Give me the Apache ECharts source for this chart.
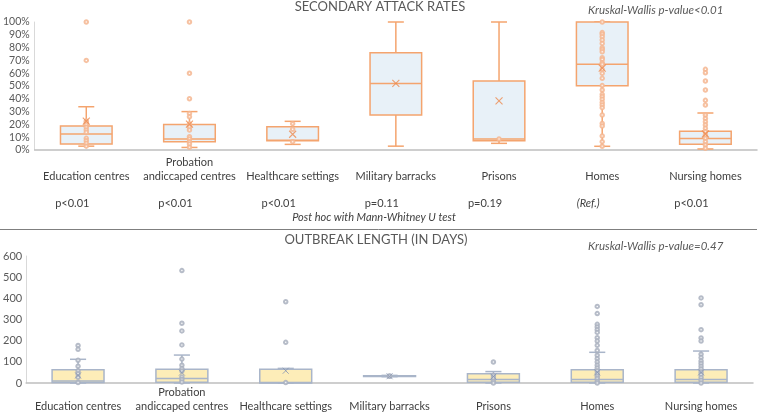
<!DOCTYPE html>
<html>
<head>
<meta charset="utf-8">
<script src="https://cdn.jsdelivr.net/npm/echarts@6/dist/echarts.min.js"></script>
<style>
html,body{margin:0;padding:0;background:#fff;}
#chart{width:760px;height:417px;}
</style>
</head>
<body>
<div id="chart"></div>
<script>
// ---------- DATA ----------
const categories = ['Education centres', 'Probation\nandiccaped centres', 'Healthcare settings', 'Military barracks', 'Prisons', 'Homes', 'Nursing homes'];

// Secondary attack rates (%)
const sarMin    = [3,    2,    4.4,  3,    5.2,  2.9,  0.8];
const sarQ1     = [4.7,  6.5,  7.3,  27.3, 7.3,  50.2, 4.4];
const sarMedian = [12.5, 8.6,  7.6,  52,   8.6,  67,   8.9];
const sarQ3     = [18.7, 20,   18.2, 76,   54,   100,  14.6];
const sarMax    = [33.8, 30,   22.4, 100,  100,  100,  28.9];
const sarMean   = [22.5, 20.3, 12.3, 52,   38.3, 64,   12.5];
const sarPoints = [
  [100, 70, 22.6, 21.6, 20, 17.7, 15.6, 13.8, 9.1, 7.3, 5.2, 3],
  [100, 60, 40, 28.6, 26, 20.3, 18, 15.6, 10.4, 8.6, 6.5, 4.7, 2.1],
  [20.6, 16.2, 6.5],
  [],
  [8.6],
  [100, 91.7, 90.4, 88.5, 85.9, 83.3, 79.9, 78.6, 76.8, 72.1, 70.8, 68.2, 66.9, 63, 59.9, 56, 50.3, 46.9, 43.5, 41.7, 39.6, 37.2, 35.2, 33.1, 27.3, 20.8, 18.75, 10.9, 6.5, 2.9],
  [63, 60.4, 53.9, 46.9, 38.8, 35.2, 27.3, 24.7, 22.1, 19.5, 16.9, 14.3, 11.7, 9.1, 6.5, 3.9, 1.3]
];
const sarPValues = ['p<0.01', 'p<0.01', 'p<0.01', 'p=0.11', 'p=0.19', '(Ref.)', 'p<0.01'];

// Outbreak length (days)
const olMin    = [0,   0,   0,  30, 0,  0,   0];
const olQ1     = [2,   3,   0,  31, 4,  3,   3];
const olMedian = [9,   21,  2,  32, 16, 17,  17];
const olQ3     = [63,  65,  65, 34, 44, 63,  63];
const olMax    = [112, 132, 69, 36, 54, 145, 151];
const olMean   = [36,  49,  58, 32, 30, 50,  50];
const olPoints = [
  [177, 159, 107, 79, 57, 44, 27, 2],
  [531, 282, 246, 180, 113, 84, 68, 57, 28, 17, 5],
  [384, 192, 2],
  [32, 33],
  [99, 36, 24, 8, 0],
  [362, 328, 277, 265, 252, 239, 214, 198, 178, 154, 131, 115, 99, 84, 71, 57, 44, 32, 21, 8, 0],
  [402, 370, 252, 213, 198, 136, 120, 104, 92, 79, 66, 52, 40, 26, 13, 0]
];

const sarTicks = [0, 100, 10];   // min, max, step
const olTicks = [0, 600, 100];

// ---------- CHART ----------
const FONT = 'Lato, "Open Sans", sans-serif';
const chart = echarts.init(document.getElementById('chart'), null, {renderer: 'canvas'});

function boxRenderer(st) {
  return function (params, api) {
    const idx = api.value(0);
    const pMin = api.coord([idx, api.value(1)]);
    const pQ1 = api.coord([idx, api.value(2)]);
    const pMed = api.coord([idx, api.value(3)]);
    const pQ3 = api.coord([idx, api.value(4)]);
    const pMax = api.coord([idx, api.value(5)]);
    const band = api.size([1, 0])[0];
    const w = band * 0.5;
    const cw = band * 0.155;
    const x = pMed[0];
    const ls = {stroke: st.stroke, lineWidth: st.lw};
    return {
      type: 'group',
      children: [
        {type: 'line', shape: {x1: x, y1: pQ3[1], x2: x, y2: pMax[1]}, style: ls},
        {type: 'line', shape: {x1: x, y1: pQ1[1], x2: x, y2: pMin[1]}, style: ls},
        {type: 'line', shape: {x1: x - cw / 2, y1: pMax[1], x2: x + cw / 2, y2: pMax[1]}, style: ls},
        {type: 'line', shape: {x1: x - cw / 2, y1: pMin[1], x2: x + cw / 2, y2: pMin[1]}, style: ls},
        {type: 'rect', shape: {x: x - w / 2, y: pQ3[1], width: w, height: Math.max(pQ1[1] - pQ3[1], 0.5)},
          style: {fill: st.fill, stroke: st.stroke, lineWidth: st.lw}},
        {type: 'line', shape: {x1: x - w / 2, y1: pMed[1], x2: x + w / 2, y2: pMed[1]}, style: ls}
      ]
    };
  };
}

function boxData(mn, q1, md, q3, mx) {
  return mn.map((v, i) => [i, mn[i], q1[i], md[i], q3[i], mx[i]]);
}
function pointData(pts) {
  const out = [];
  pts.forEach((arr, i) => arr.forEach(v => out.push([i, v])));
  return out;
}
function meanData(arr) { return arr.map((v, i) => [i, v]); }

const xMark = 'path://M0,0L10,10M10,0L0,10';

const axisLabelX = (margin) => ({
  color: '#404040', fontSize: 11, fontFamily: FONT, interval: 0,
  verticalAlign: 'bottom', lineHeight: 14, margin: margin
});

const option = {
  animation: false,
  backgroundColor: '#ffffff',
  textStyle: {fontFamily: FONT},
  grid: [
    {left: 32, right: 3, top: 22, height: 128},
    {left: 24, right: 7, top: 256, height: 127}
  ],
  xAxis: [
    {type: 'category', gridIndex: 0, data: categories,
      axisLine: {lineStyle: {color: '#bfbfbf', width: 1.5}}, axisTick: {show: false},
      axisLabel: axisLabelX(33), splitLine: {show: false}},
    {type: 'category', gridIndex: 1, data: categories,
      axisLine: {lineStyle: {color: '#bfbfbf', width: 1.5}}, axisTick: {show: false},
      axisLabel: axisLabelX(30), splitLine: {show: false}}
  ],
  yAxis: [
    {type: 'value', gridIndex: 0, min: sarTicks[0], max: sarTicks[1], interval: sarTicks[2],
      axisLine: {show: true, lineStyle: {color: '#d9d9d9'}}, axisTick: {show: false}, splitLine: {show: false},
      axisLabel: {formatter: '{value}%', color: '#595959', fontSize: 10.5, fontFamily: FONT, margin: 5}},
    {type: 'value', gridIndex: 1, min: olTicks[0], max: olTicks[1], interval: olTicks[2],
      axisLine: {show: true, lineStyle: {color: '#d9d9d9'}}, axisTick: {show: false}, splitLine: {show: false},
      axisLabel: {color: '#595959', fontSize: 11, fontFamily: FONT, margin: 4}}
  ],
  series: [
    {type: 'custom', xAxisIndex: 0, yAxisIndex: 0, renderItem: boxRenderer({stroke: '#F4A46E', fill: '#E8F1F8', lw: 1.5}),
      data: boxData(sarMin, sarQ1, sarMedian, sarQ3, sarMax), encode: {x: 0, y: [1, 2, 3, 4, 5]}, z: 2},
    {type: 'scatter', xAxisIndex: 0, yAxisIndex: 0, symbol: 'emptyCircle', symbolSize: 3.5,
      itemStyle: {color: '#F5B690', borderWidth: 0.8, opacity: 0.85}, data: pointData(sarPoints), z: 3},
    {type: 'scatter', xAxisIndex: 0, yAxisIndex: 0, symbol: xMark, symbolSize: 7,
      itemStyle: {color: 'none', borderColor: '#EE8A4E', borderWidth: 1.1}, data: meanData(sarMean), z: 4},

    {type: 'custom', xAxisIndex: 1, yAxisIndex: 1, renderItem: boxRenderer({stroke: '#A9B5C9', fill: '#FDEDB8', lw: 1.5}),
      data: boxData(olMin, olQ1, olMedian, olQ3, olMax), encode: {x: 0, y: [1, 2, 3, 4, 5]}, z: 2},
    {type: 'scatter', xAxisIndex: 1, yAxisIndex: 1, symbol: 'emptyCircle', symbolSize: 3.5,
      itemStyle: {color: '#A9B0BE', borderWidth: 0.8, opacity: 0.85}, data: pointData(olPoints), z: 3},
    {type: 'scatter', xAxisIndex: 1, yAxisIndex: 1, symbol: xMark, symbolSize: 6,
      itemStyle: {color: 'none', borderColor: '#8594B2', borderWidth: 1}, data: meanData(olMean), z: 4}
  ],
  graphic: []
};

chart.setOption(option);

// Texts placed relative to category centres
const g = [];
g.push({type: 'text', left: 'center', top: 0, style: {text: 'SECONDARY ATTACK RATES', fill: '#595959', font: '13px ' + FONT}});
g.push({type: 'text', x: 588, y: 4, style: {text: 'Kruskal-Wallis p-value<0.01', fill: '#595959', font: 'italic 11.5px ' + FONT}});
sarPValues.forEach((t, i) => {
  const p = chart.convertToPixel({xAxisIndex: 0}, i);
  g.push({type: 'text', x: p - 14, y: 203, style: {text: t, fill: '#404040', font: (t === '(Ref.)' ? 'italic ' : '') + '11px ' + FONT, textAlign: 'center', textVerticalAlign: 'middle'}});
});
g.push({type: 'text', x: 374, y: 217, style: {text: 'Post hoc with Mann-Whitney U test', fill: '#404040', font: 'italic 11px ' + FONT, textAlign: 'center', textVerticalAlign: 'middle'}});
g.push({type: 'line', shape: {x1: 0, y1: 229.5, x2: 757, y2: 229.5}, style: {stroke: '#7f7f7f', lineWidth: 1}});
g.push({type: 'text', x: 376, y: 240, style: {text: 'OUTBREAK LENGTH (IN DAYS)', fill: '#595959', font: '13px ' + FONT, textAlign: 'center', textVerticalAlign: 'middle'}});
g.push({type: 'text', x: 588, y: 240, style: {text: 'Kruskal-Wallis p-value=0.47', fill: '#595959', font: 'italic 11.5px ' + FONT}});
chart.setOption({graphic: g});
</script>
</body>
</html>
